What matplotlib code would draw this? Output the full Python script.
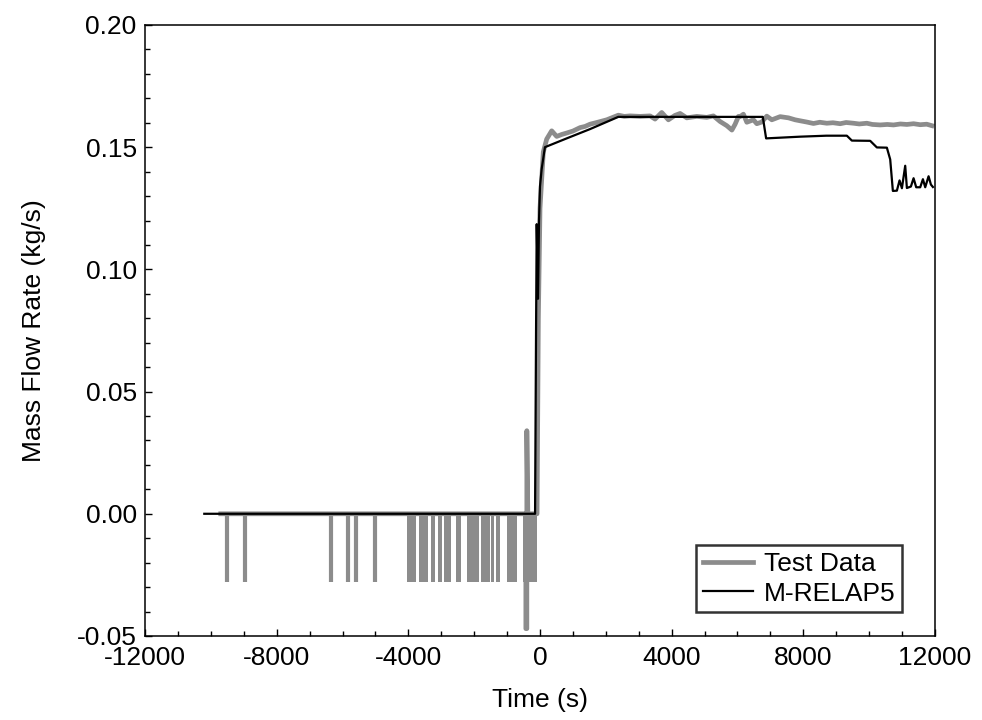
"""Mass flow rate: test data vs M-RELAP5 prediction."""

import matplotlib

matplotlib.use("Agg")
import matplotlib.pyplot as plt  # noqa: E402

plt.rcParams["font.family"] = ["Liberation Sans", "DejaVu Sans"]
plt.rcParams["axes.unicode_minus"] = False  # plain hyphen like the original

# --- Test data (gray): continuous part ---
test_t = [-9700, -500, -430, -430, -400, -400, -370, -90, -50, 0, 100, 203,
          355, 507, 660, 811, 1000, 1216, 1370, 1520, 1780, 2027, 2381, 2560,
          2736, 3040, 3344, 3496, 3698, 3901, 4100, 4256, 4459, 4763, 5067,
          5269, 5472, 5675, 5830, 5928, 6030, 6080, 6180, 6283, 6485, 6587,
          6739, 6890, 7043, 7296, 7550, 7752, 7904, 8100, 8309, 8500, 8714,
          8900, 9120, 9300, 9525, 9700, 9930, 10100, 10336, 10550, 10741,
          10950, 11147, 11350, 11552, 11750, 11907]
test_m = [0.0, 0.0, 0.0, -0.047, -0.047, 0.034, 0.0, 0.0, 0.08, 0.125, 0.148,
          0.1533, 0.1567, 0.1544, 0.1552, 0.1558, 0.1566, 0.1580, 0.1585,
          0.1594, 0.1603, 0.1612, 0.1631, 0.1626, 0.1628, 0.1626, 0.1628,
          0.1615, 0.1642, 0.1612, 0.1630, 0.1638, 0.1620, 0.1626, 0.1622,
          0.1628, 0.1605, 0.1588, 0.1570, 0.1594, 0.1626, 0.1625, 0.1635,
          0.1602, 0.1612, 0.1596, 0.1603, 0.1627, 0.1612, 0.1625, 0.1620,
          0.1612, 0.1608, 0.1603, 0.1597, 0.1602, 0.1598, 0.1600, 0.1596,
          0.1601, 0.1598, 0.1595, 0.1598, 0.1593, 0.1591, 0.1593, 0.1591,
          0.1595, 0.1593, 0.1596, 0.1592, 0.1594, 0.1588]

# isolated signal dropouts and dense dropout bursts (start, end)
dropout_level = -0.028
dropout_t = [-9506, -8959, -6354, -5837, -5584, -5006]
dropout_blocks = [(-4034, -3770), (-3678, -3396), (-3323, -3192),
                  (-3101, -2988), (-2918, -2706), (-2554, -2402),
                  (-2228, -1845), (-1803, -1520), (-1490, -1389),
                  (-1347, -1216), (-1012, -708), (-508, -100)]

# --- M-RELAP5 (black) ---
model_t = [-10200, -150, -120, -100, -60, -30, 0, 50, 150, 811, 1520, 2380,
           6769, 6870, 7904, 8700, 9323, 9475, 10032, 10235, 10539, 10640,
           10721, 10843, 10924, 10996, 11096, 11147, 11269, 11350, 11430,
           11552, 11634, 11704, 11806, 11877, 11938]
model_m = [0.0, 0.0, 0.075, 0.1185, 0.088, 0.12, 0.134, 0.141, 0.150, 0.1536,
           0.1574, 0.1624, 0.1624, 0.1536, 0.1543, 0.1547, 0.1547, 0.1527,
           0.1526, 0.1499, 0.1498, 0.1450, 0.1321, 0.1322, 0.1364, 0.1332,
           0.1424, 0.1333, 0.1339, 0.1373, 0.1336, 0.1336, 0.1369, 0.1336,
           0.1381, 0.1347, 0.1337]

gray = "#8c8c8c"

fig = plt.figure(figsize=(9.82, 7.2), dpi=100)
ax = fig.add_axes((0.1477, 0.1167, 0.8044, 0.8486))

ax.plot(test_t, test_m, color=gray, lw=3.4, label="Test Data", zorder=2)
ax.vlines(dropout_t, dropout_level, 0.0, color=gray, lw=3.0, zorder=2)
for s, e in dropout_blocks:
    ax.fill_between([s, e], dropout_level, 0.0, color=gray, lw=0, zorder=2)
ax.plot(model_t, model_m, color="black", lw=1.6, label="M-RELAP5", zorder=3)

ax.set_xlim(-12000, 12000)
ax.set_ylim(-0.05, 0.20)
ax.set_xticks(range(-12000, 12001, 4000))
ax.set_xticks(range(-12000, 12001, 1000), minor=True)
yticks = [-0.05, 0.0, 0.05, 0.10, 0.15, 0.20]
ax.set_yticks(yticks)
ax.set_yticks([i * 0.01 for i in range(-5, 21)], minor=True)
ax.set_yticklabels([f"{v:.2f}" for v in yticks])

ax.tick_params(which="both", direction="in", top=False, right=False,
               labelsize=19, width=1.0)
ax.tick_params(which="major", length=5, pad=6)
ax.tick_params(axis="x", which="major", pad=7.5)
ax.tick_params(which="minor", length=3.5)
for sp in ax.spines.values():
    sp.set_linewidth(1.1)

ax.set_xlabel("Time (s)", fontsize=19, labelpad=13)
ax.set_ylabel("Mass Flow Rate (kg/s)", fontsize=19, labelpad=22)

leg = ax.legend(loc="lower right", bbox_to_anchor=(0.958, 0.039), fontsize=19,
                frameon=True, fancybox=False, shadow=False, handlelength=1.9,
                handletextpad=0.4, borderpad=0.25, labelspacing=0.22,
                borderaxespad=0)
leg.get_frame().set_edgecolor("black")
leg.get_frame().set_linewidth(1.8)

fig.savefig("out.png", dpi=100)
